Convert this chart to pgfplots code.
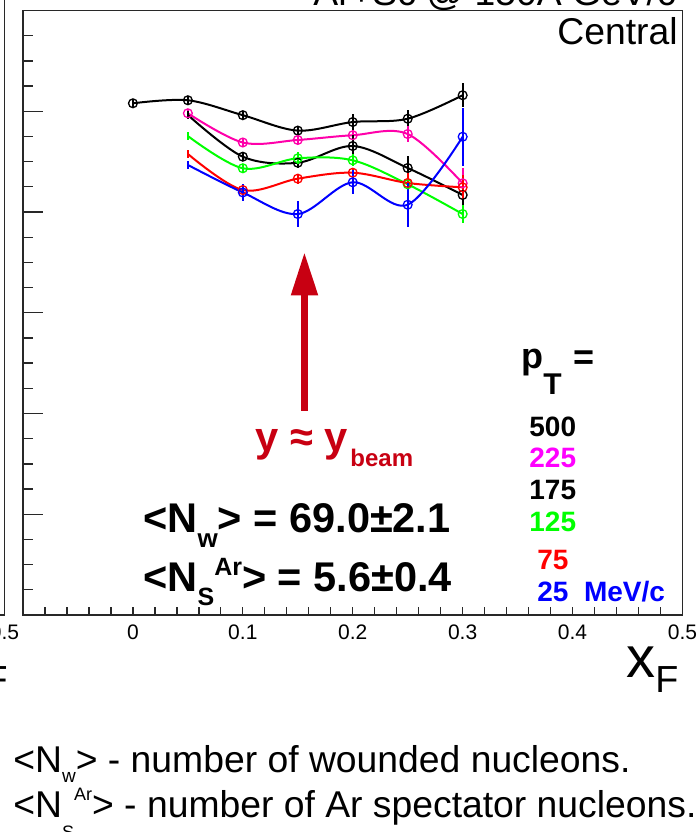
\documentclass[border=0pt]{standalone}
\usepackage{pgfplots}
\pgfplotsset{compat=1.18}
\usepackage{fontspec}
\setmainfont{Liberation Sans}

\definecolor{arrowred}{RGB}{200,0,18}
\definecolor{ptmagenta}{RGB}{255,0,255}
\definecolor{pinkline}{RGB}{255,0,170}
\definecolor{ptgreen}{RGB}{0,255,0}
\definecolor{ptred}{RGB}{255,0,0}
\definecolor{ptblue}{RGB}{0,0,255}
\definecolor{framegray}{RGB}{40,40,40}

\pgfplotsset{
  ptcurve/.style={smooth, tension=0.55, line width=1pt, color=#1, solid,
    mark=o, mark size=2.2pt, mark options={line width=0.65pt, solid},
    error bars/.cd, y dir=both, y explicit, error mark=none,
    error bar style={line width=1pt, solid, #1}},
  frame geometry/.style={at={(11.5pt,108.5pt)}, anchor=south west,
    scale only axis, width=329.75pt, height=302.25pt,
    xmin=-0.1, xmax=0.5, ymin=0, ymax=6,
    axis line style={line width=0.65pt, framegray},
    every tick/.style={line width=0.65pt, framegray}},
}

\begin{document}
\begin{tikzpicture}
\useasboundingbox (0,0) rectangle (350pt,416pt);
\clip (0,0) rectangle (350pt,416pt);
\fill[white] (0,0) rectangle (350pt,416pt);

% frame, y ticks and the curves
\begin{axis}[frame geometry,
  xtick=\empty, ytick={0,1,2,3,4,5,6}, yticklabels={,,,,,,},
  minor y tick num=3, ytick pos=left,
  major tick length=10pt, minor tick length=5pt]

% pT = 500 MeV/c
\addplot[ptcurve=black] coordinates {
  (0,5.079) +- (0,0.04)
  (0.05,5.109) +- (0,0.04)
  (0.1,4.961) +- (0,0.04)
  (0.15,4.808) +- (0,0.05)
  (0.2,4.893) +- (0,0.08)
  (0.25,4.926) +- (0,0.09)
  (0.3,5.159) +- (0,0.12)
};
% pT = 225 MeV/c
\addplot[ptcurve=pinkline] coordinates {
  (0.05,4.980) +- (0,0.04)
  (0.1,4.690) +- (0,0.04)
  (0.15,4.715) +- (0,0.04)
  (0.2,4.762) +- (0,0.05)
  (0.25,4.774) +- (0,0.08)
  (0.3,4.285) +- (0,0.15)
};
% pT = 175 MeV/c (first point unmarked)
\addplot[mark indices={2,3,4,5,6}, ptcurve=black] coordinates {
  (0.05,4.963) +- (0,0.04)
  (0.1,4.549) +- (0,0.04)
  (0.15,4.489) +- (0,0.05)
  (0.2,4.655) +- (0,0.11)
  (0.25,4.437) +- (0,0.12)
  (0.3,4.169) +- (0,0.11)
};
% pT = 125 MeV/c
\addplot[mark indices={2,3,4,5,6}, ptcurve=ptgreen] coordinates {
  (0.05,4.754) +- (0,0.04)
  (0.1,4.434) +- (0,0.04)
  (0.15,4.533) +- (0,0.06)
  (0.2,4.513) +- (0,0.06)
  (0.25,4.275) +- (0,0.10)
  (0.3,3.980) +- (0,0.09)
};
% pT = 75 MeV/c
\addplot[mark indices={2,3,4,5,6}, ptcurve=ptred] coordinates {
  (0.05,4.576) +- (0,0.04)
  (0.1,4.218) +- (0,0.04)
  (0.15,4.331) +- (0,0.05)
  (0.2,4.390) +- (0,0.05)
  (0.25,4.288) +- (0,0.10)
  (0.3,4.245) +- (0,0.12)
};
% pT = 25 MeV/c
\addplot[mark indices={2,3,4,5,6}, ptcurve=ptblue] coordinates {
  (0.05,4.467) +- (0,0.04)
  (0.1,4.194) +- (0,0.08)
  (0.15,3.980) +- (0,0.13)
  (0.2,4.295) +- (0,0.12)
  (0.25,4.072) +- (0,0.22)
  (0.3,4.747) +- (0,0.29)
};
\end{axis}

% x ticks and tick labels
\begin{axis}[frame geometry, hide y axis,
  xtick={-0.1,0,0.1,0.2,0.3,0.4,0.5},
  xticklabels={,0,0.1,0.2,0.3,0.4,0.5},
  minor x tick num=4, xtick pos=bottom,
  major tick length=4pt, minor tick length=4pt,
  xticklabel style={anchor=base, yshift=-12.5pt, font=\fontsize{10.5}{12}\selectfont}]
\end{axis}

\begin{scope}[shift={(0pt,416pt)}, x=0.5pt, y=-0.5pt]
  % edge of the neighbouring panel
  \draw[line width=0.65pt, framegray] (4.5,-5) -- (4.5,615) -- (-5,615);
  \node[anchor=base, inner sep=0, font=\fontsize{10.5}{12}\selectfont] at (4.5,640) {0.5};
  \node[anchor=base east, inner sep=0, font=\fontsize{18.85}{20}\selectfont] at (8,692) {F};

  % title and centrality
  \node[anchor=base west, inner sep=0, font=\fontsize{18.65}{20}\selectfont] at (313,6) {Ar+Sc @ 150A GeV/c};
  \node[anchor=base east, inner sep=0, font=\fontsize{18.65}{20}\selectfont] at (678,45) {Central};

  % beam-rapidity arrow
  \fill[arrowred] (300.7,294) rectangle (308.3,410.7);
  \fill[arrowred] (290.7,295.5) -- (318.3,295.5) -- (304.4,253.3) -- cycle;
  \node[anchor=base west, inner sep=0, text=arrowred, font=\bfseries\fontsize{20.85}{22}\selectfont] at (255,451.7) {y ≈ y};
  \node[anchor=base west, inner sep=0, text=arrowred, font=\bfseries\fontsize{12}{13}\selectfont] at (350,467) {beam};

  % centrality numbers
  \node[anchor=base west, inner sep=0, font=\bfseries\fontsize{20.75}{22}\selectfont] at (143,533)
    {<N\raisebox{-7pt}{\fontsize{13}{13}\selectfont w}> = 69.0±2.1};
  \node[anchor=base west, inner sep=0, font=\bfseries\fontsize{20.75}{22}\selectfont] at (143,592)
    {<N\raisebox{-6.5pt}{\fontsize{12.5}{13}\selectfont S}\raisebox{8.5pt}{\fontsize{12.5}{13}\selectfont Ar}> = 5.6±0.4};

  % pT key
  \node[anchor=base west, inner sep=0, font=\bfseries\fontsize{18}{20}\selectfont] at (521,369) {p};
  \node[anchor=base west, inner sep=0, font=\bfseries\fontsize{15}{16}\selectfont] at (543,395) {T};
  \node[anchor=base west, inner sep=0, font=\bfseries\fontsize{18}{20}\selectfont] at (573,370) {=};
  \begin{scope}[every node/.style={anchor=base west, inner sep=0, font=\bfseries\fontsize{14}{15}\selectfont}]
    \node[text=black] at (529,437) {500};
    \node[text=ptmagenta] at (529,468) {225};
    \node[text=black] at (529,500) {175};
    \node[text=ptgreen] at (529,532) {125};
    \node[text=ptred] at (537,569) {75};
    \node[text=ptblue] at (537,602) {25\ \ MeV/c};
  \end{scope}

  % axis title
  \node[anchor=base west, inner sep=0, font=\fontsize{29}{30}\selectfont] at (626,677) {x};
  \node[anchor=base west, inner sep=0, font=\fontsize{18.85}{20}\selectfont] at (655,692) {F};

  % notes below the panel
  \node[anchor=base west, inner sep=0, font=\fontsize{18.65}{20}\selectfont] at (13,772)
    {<N\raisebox{-5.5pt}{\fontsize{9.5}{10}\selectfont w}> - number of wounded nucleons.};
  \node[anchor=base west, inner sep=0, font=\fontsize{18.65}{20}\selectfont] at (13,817)
    {<N\raisebox{-10.5pt}{\fontsize{9}{10}\selectfont S}\raisebox{8.5pt}{\fontsize{9}{10}\selectfont Ar}> - number of Ar spectator nucleons.};
\end{scope}
\end{tikzpicture}
\end{document}
